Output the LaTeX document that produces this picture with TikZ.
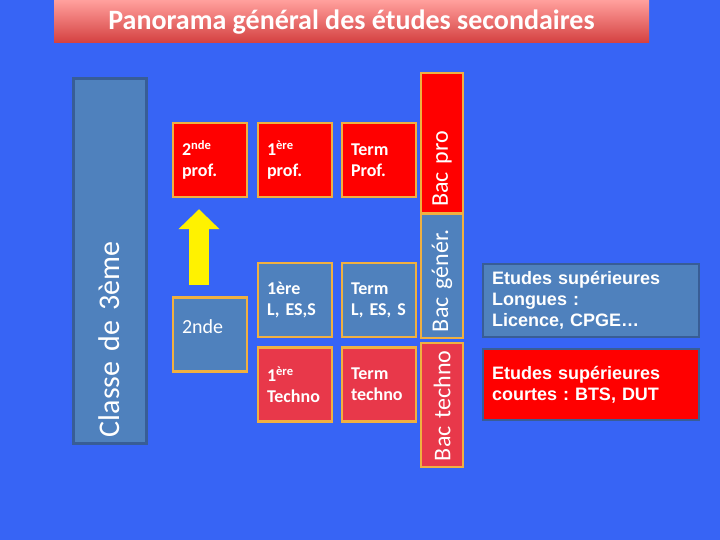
\documentclass[tikz,border=0pt]{standalone}
\usepackage{fontspec}
\setmainfont{Carlito}
\newfontfamily\arialfont{Liberation Sans}
\usepackage{xcolor}
\usepackage{tikz}
\usetikzlibrary{arrows.meta,positioning,calc}
\frenchspacing

\definecolor{bgblue}{RGB}{55,100,245}
\definecolor{steel}{RGB}{79,129,189}
\definecolor{steeldark}{RGB}{56,93,150}
\definecolor{goldline}{RGB}{240,176,64}
\definecolor{redbox}{RGB}{255,0,0}
\definecolor{redtech}{RGB}{232,56,74}
\definecolor{titletop}{RGB}{255,158,155}
\definecolor{titlebot}{RGB}{212,64,64}

\begin{document}
\begin{tikzpicture}[
x=1pt,
y=-1pt,
every node/.style={text=white},
titlebar/.style={rectangle,top color=titletop,bottom color=titlebot,draw=none,minimum width=595pt,minimum height=42pt,font=\fontsize{28}{34}\selectfont\bfseries},
year/.style={rectangle,draw=goldline,line width=2.4pt,minimum width=74pt,minimum height=74pt,text width=56pt,inner xsep=9pt,align=left,font=\fontsize{18}{21}\selectfont\bfseries},
colbox/.style={rectangle,draw=goldline,line width=2.4pt,rotate=90,minimum height=42pt,inner xsep=6pt,align=left,font=\fontsize{24}{28}\selectfont},
sup/.style={rectangle,draw=steeldark,line width=2.4pt,minimum width=216pt,text width=198pt,inner xsep=9pt,align=left,font=\arialfont\fontsize{18}{21}\selectfont\bfseries},
blockarr/.style={draw=yellow,line width=20pt,-{Triangle[width=40pt,length=20pt]},shorten <=11pt,shorten >=11pt}
]
\fill[bgblue] (0,0) rectangle (720,540);

\node[titlebar] (title) at (351.5,22) {Panorama général des études secondaires};

\node[colbox,draw=steeldark,fill=steel,line width=3pt,minimum width=364pt,minimum height=73pt,text width=352pt,font=\fontsize{30}{34}\selectfont] (troisieme) at (109.5,261) {Classe de 3ème};

\node[colbox,fill=redbox,minimum width=140pt,text width=128pt] (bacpro) at (442,143) {Bac pro};
\node[colbox,fill=steel,minimum width=124pt,text width=112pt] (bacgen) at (442,276) {Bac génér.};
\node[colbox,fill=redtech,minimum width=124pt,text width=112pt] (bactech) at (442,405) {Bac techno};

\node[year,fill=redbox] (proA) at (210,160) {2\textsuperscript{nde}\\prof.};
\node[year,fill=redbox] (proB) at (295,160) {1\textsuperscript{ère}\\prof.};
\node[year,fill=redbox] (proC) at (379,160) {Term\\Prof.};

\node[year,fill=steel,font=\fontsize{20}{24}\selectfont,text depth=16pt] (seconde) at (210,334.5) {2nde};
\node[year,fill=steel] (genA) at (295,300) {1ère\\L, ES,S};
\node[year,fill=steel] (genB) at (379,300) {Term\\L, ES, S};
\node[year,fill=redtech] (techA) at (295,384.5) {1\textsuperscript{ère}\\Techno};
\node[year,fill=redtech] (techB) at (379,384.5) {Term\\techno};

\node[sup,fill=steel,minimum height=73pt] (longues) at (591,300.5) {Etudes supérieures\\Longues :\\Licence, CPGE\ldots};
\node[sup,fill=redbox,minimum height=71pt] (courtes) at (591,384.5) {Etudes supérieures\\courtes : BTS, DUT};

\draw[blockarr] ([xshift=-11pt]seconde.north) -- ([xshift=-11pt]proA.south);
\end{tikzpicture}
\end{document}
